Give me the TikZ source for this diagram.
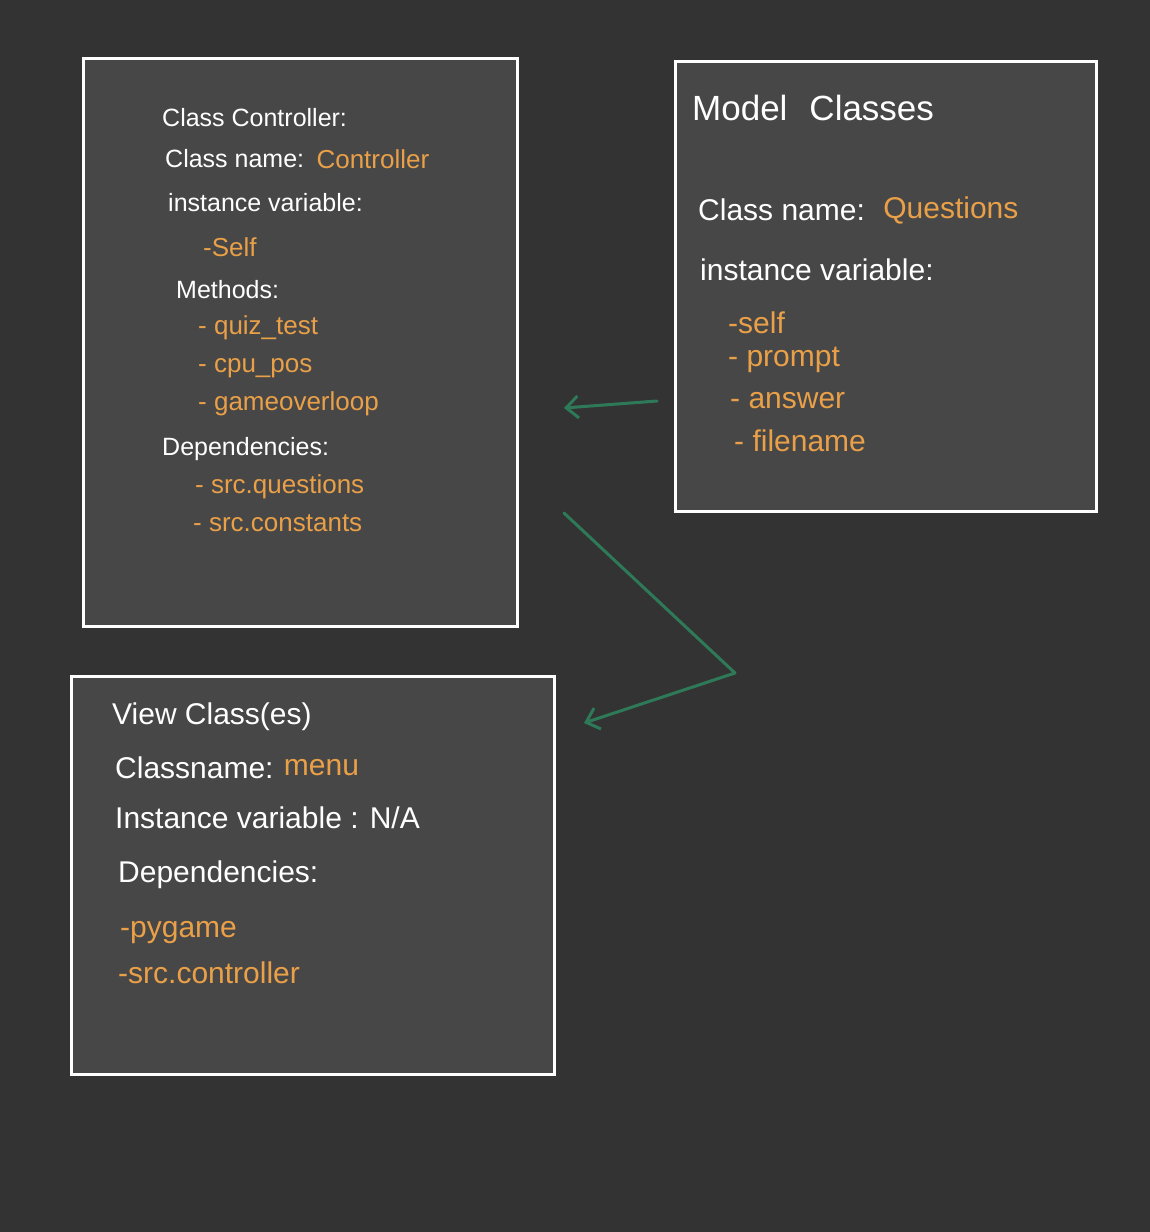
\documentclass[tikz,border=0pt]{standalone}
\usepackage{fontspec}
\setmainfont{Liberation Sans}
\usetikzlibrary{arrows.meta}
\definecolor{bgc}{HTML}{333333}
\definecolor{boxc}{HTML}{474747}
\definecolor{orng}{HTML}{E9A048}
\definecolor{grn}{HTML}{2E7A58}
\begin{document}
\begin{tikzpicture}[x=1pt,y=-1pt,
  box/.style={draw=white,line width=3pt,fill=boxc,inner sep=0pt},
  wt/.style={anchor=west,text=white,inner sep=0pt,font=\fontsize{25}{30}\selectfont},
  ot/.style={anchor=west,text=orng,inner sep=0pt,font=\fontsize{26}{30}\selectfont},
  mfont/.style={font=\fontsize{30}{34}\selectfont},
  vfont/.style={font=\fontsize{30}{34}\selectfont},
  big/.style={font=\fontsize{35}{40}\selectfont},
  conn/.style={draw=grn,line width=3pt,line cap=round,line join=round,-{Straight Barb[length=12pt,width=22pt,line width=3pt]}}]
\path[fill=bgc] (0,0) rectangle (1150,1232);
% boxes
\node[box,minimum width=434pt,minimum height=568pt] (ctrl) at (300,342) {};
\node[box,minimum width=421pt,minimum height=450pt] (model) at (885.5,286) {};
\node[box,minimum width=483pt,minimum height=398pt] (view) at (312.5,875) {};
% controller texts
\node[wt] (c1) at (162,118) {Class Controller:};
\node[wt] (c2) at (165,159) {Class name:};
\node[ot] (c2b) at (c2.east) [anchor=west,xshift=12pt] {Controller};
\node[wt] (c3) at (168,203) {instance variable:};
\node[ot] (c4) at (203,247) {-Self};
\node[wt] (c5) at (176,290) {Methods:};
\node[ot] (c6) at (198,328) {- quiz\_test};
\node[ot] (c7) at (198,368) {- cpu\_pos};
\node[ot] (c8) at (198,404) {- gameoverloop};
\node[wt] (c9) at (162,449) {Dependencies:};
\node[ot] (c10) at (195,487) {- src.questions};
\node[ot] (c11) at (193,523) {- src.constants};
% model texts
\node[wt,big] (m1) at (692,108) {Model\hspace{22pt}Classes};
\node[wt,mfont] (m2) at (698,210) {Class name:};
\node[ot,mfont] (m2b) at (m2.east) [anchor=west,xshift=18pt] {Questions};
\node[wt,mfont] (m3) at (700,270) {instance variable:};
\node[ot,mfont] (m4) at (728,323) {-self};
\node[ot,mfont] (m5) at (728,360) {- prompt};
\node[ot,mfont] (m6) at (730,401) {- answer};
\node[ot,mfont] (m7) at (734,441) {- filename};
% view texts
\node[wt,vfont] (v1) at (112,717) {View Class(es)};
\node[wt,vfont] (v2) at (115,768) {Classname:};
\node[ot,vfont] (v2b) at (v2.east) [anchor=west,xshift=10pt] {menu};
\node[wt,vfont] (v3) at (115,818) {Instance variable : N/A};
\node[wt,vfont] (v4) at (118,875) {Dependencies:};
\node[ot,vfont] (v5) at (120,933) {-pygame};
\node[ot,vfont] (v6) at (118,973) {-src.controller};
% connectors
\coordinate (a1s) at (657,401);
\coordinate (a1e) at (564,408);
\coordinate (a2s) at (564,513);
\coordinate (a2m) at (735,673);
\coordinate (a2e) at (584,723);
\draw[conn] (a1s) -- (a1e);
\draw[conn] (a2s) -- (a2m) -- (a2e);
\end{tikzpicture}
\end{document}
